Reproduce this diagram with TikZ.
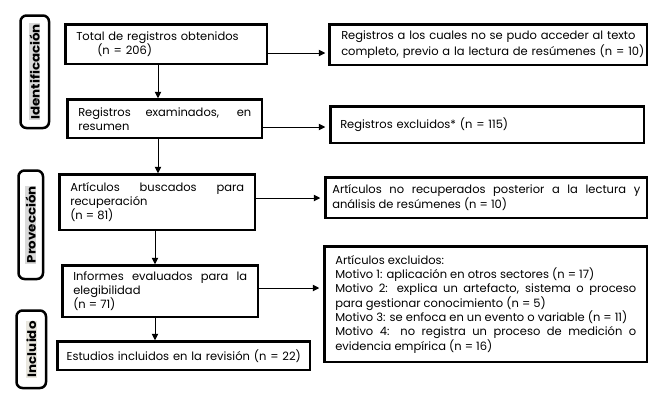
\documentclass[tikz,border=0pt]{standalone}
\usepackage{fontspec}
\setmainfont{Poppins}
\newfontfamily\sidefont[FakeStretch=1.12]{Poppins}
\usetikzlibrary{arrows.meta}
\hyphenpenalty=10000
\exhyphenpenalty=10000
\tolerance=10000
\hbadness=10000
\hfuzz=50pt
\definecolor{hlgray}{HTML}{D9D9D9}
\definecolor{hlbeige}{HTML}{E9E7DF}
\begin{document}
\begin{tikzpicture}[x=1pt,y=-1pt,
  box/.style={draw, line width=2.5pt, rectangle, anchor=north west, inner ysep=0pt,
    font=\fontsize{11.5}{14}\selectfont},
  side/.style={draw, line width=2.5pt, rounded corners=6pt, anchor=north west, inner sep=0pt},
  sidetxt/.style={rotate=90, inner sep=0.6pt, font=\sidefont\bfseries\fontsize{12}{14}\selectfont},
  arr/.style={line width=0.9pt, -{Triangle[length=6.5pt,width=6.5pt]}}]

\useasboundingbox (0,0) rectangle (664,400);

% side labels
\node[side, minimum width=28.5pt, minimum height=112.5pt] (s1) at (19.25,14.25) {};
\node[sidetxt, fill=hlgray] (s1t) at (s1.center) {Identificación};
\node[side, minimum width=24.5pt, minimum height=108.5pt] (s2) at (17.25,169.25) {};
\node[sidetxt, fill=hlgray] (s2t) at (s2.center) {Provección};
\node[side, minimum width=29.5pt, minimum height=77.5pt] (s3) at (15.25,309.25) {};
\node[sidetxt, fill=hlbeige] (s3t) at (s3.center) {Incluido};

% main column
\node[box, text width=180pt, inner xsep=10.75pt, minimum height=39.5pt, align=left] (b1)
  at (64.25,23.25) {\mbox{Total de registros obtenidos}\\\hspace*{21pt}(n = 206)};
\node[box, text width=173pt, inner xsep=10.75pt, minimum height=38.5pt, align=justify] (b2)
  at (66.25,98.25) {Registros examinados, en\linebreak resumen};
\node[box, text width=174pt, inner xsep=10.75pt, minimum height=55.5pt, align=justify,
  font=\fontsize{11.5}{13.5}\selectfont] (b3)
  at (58.25,173.25) {Artículos buscados para\linebreak recuperación\\(n = 81)};
\node[box, text width=174pt, inner xsep=10.75pt, minimum height=51.5pt, align=justify] (b4)
  at (61.25,264.25) {Informes evaluados para la\linebreak elegibilidad\\(n = 71)};
\node[box, text width=231pt, inner xsep=10.75pt, minimum height=28.5pt, align=left] (b5)
  at (56.25,340.25) {\makebox[231pt][c]{Estudios incluidos en la revisión (n = 22)}};

% right column
\node[box, text width=294pt, inner xsep=11.75pt, minimum height=40.5pt, align=left,
  font=\fontsize{11.5}{16.5}\selectfont] (r1)
  at (328.25,23.25) {\mbox{Registros a los cuales no se pudo acceder al texto}\\\mbox{completo, previo a la lectura de resúmenes (n = 10)}};
\node[box, text width=294pt, inner xsep=9.75pt, minimum height=36.5pt, align=left] (r2)
  at (329.25,105.25) {Registros excluidos* (n = 115)};
\node[box, text width=308pt, inner xsep=6.75pt, minimum height=40.5pt, align=justify,
  font=\fontsize{11.5}{15}\selectfont] (r3)
  at (324.25,176.25) {Artículos no recuperados posterior a la lectura y\linebreak análisis de resúmenes (n = 10)};
\node[box, text width=301pt, inner xsep=10.75pt, minimum height=115.5pt, align=justify,
  font=\fontsize{11.5}{14.3}\selectfont] (r4)
  at (323.25,245.25) {Artículos excluidos:\\
Motivo 1: aplicación en otros sectores (n = 17)\\
Motivo 2: explica un artefacto, sistema o proceso\linebreak para gestionar conocimiento (n = 5)\\
\mbox{Motivo 3: se enfoca en un evento o variable (n = 11)}\\
Motivo 4: no registra un proceso de medición o\linebreak evidencia empírica (n = 16)};

% connector guides
\coordinate (v1) at (158,0);
\coordinate (v2) at (155,0);
\coordinate (h1) at (0,53);
\coordinate (h2) at (0,127);
\coordinate (h3) at (0,198);
\coordinate (h4) at (0,288);

\draw[arr] (b1.south -| v1) -- (b2.north -| v1);
\draw[arr] (b2.south -| v1) -- (b3.north -| v1);
\draw[arr] (b3.south -| v2) -- (b4.north -| v2);
\draw[arr] (b4.south -| v2) -- (b5.north -| v2);

\draw[arr, shorten >=3pt] (b1.east |- h1) -- (r1.west |- h1);
\draw[arr, shorten >=4pt] (b2.east |- h2) -- (r2.west |- h2);
\draw[arr, shorten >=4pt] (b3.east |- h3) -- (r3.west |- h3);
\draw[arr, shorten >=4pt] (b4.east |- h4) -- (r4.west |- h4);
\end{tikzpicture}
\end{document}
